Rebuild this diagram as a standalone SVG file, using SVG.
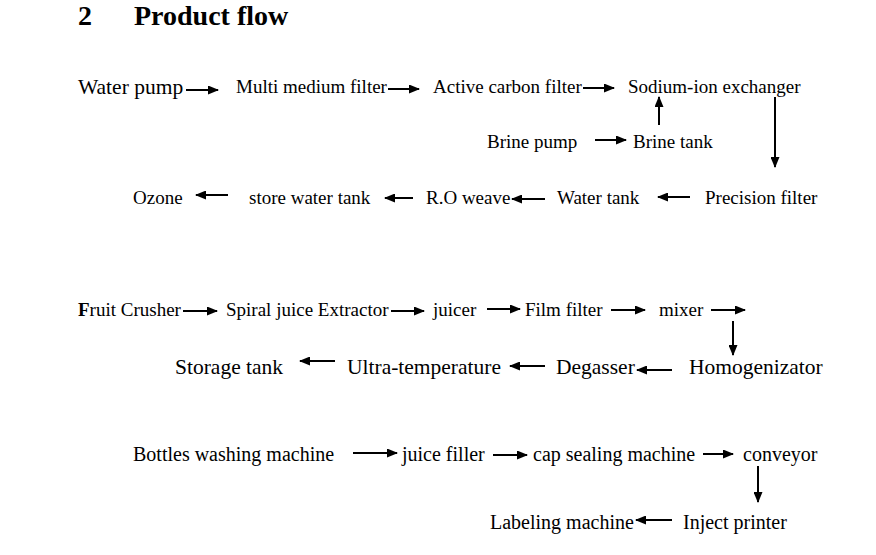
<svg xmlns="http://www.w3.org/2000/svg" width="876" height="555" viewBox="0 0 876 555">
<defs>
<marker id="ah" markerUnits="userSpaceOnUse" markerWidth="11" markerHeight="9" refX="10" refY="4.5" orient="auto">
<path d="M0,0 L11,4.5 L0,9 z" fill="#000"/>
</marker>
</defs>
<style>
text{font-family:"Liberation Serif","Times New Roman",serif;fill:#000}
.t{font-size:28px;font-weight:bold}
.m{font-size:19px}
.n{font-size:20px}
.l{font-size:21.5px}
.c line{stroke:#000;stroke-width:2;marker-end:url(#ah)}
</style>
<rect width="876" height="555" fill="#fff"/>
<g id="title">
<text class="t" x="78" y="25">2</text>
<text class="t" x="134" y="25">Product flow</text>
</g>
<g id="water-pump"><text class="l" x="78" y="94">Water pump</text></g>
<g id="multi-medium-filter"><text class="m" x="236" y="93">Multi medium filter</text></g>
<g id="active-carbon-filter"><text class="m" x="433" y="93">Active carbon filter</text></g>
<g id="sodium-ion-exchanger"><text class="m" x="628" y="93">Sodium-ion exchanger</text></g>
<g id="brine-pump"><text class="m" x="487" y="148">Brine pump</text></g>
<g id="brine-tank"><text class="m" x="633" y="148">Brine tank</text></g>
<g id="ozone"><text class="m" x="133" y="204">Ozone</text></g>
<g id="store-water-tank"><text class="m" x="249" y="204">store water tank</text></g>
<g id="ro-weave"><text class="m" x="426" y="204">R.O weave</text></g>
<g id="water-tank"><text class="m" x="557" y="204">Water tank</text></g>
<g id="precision-filter"><text class="m" x="705" y="204">Precision filter</text></g>
<g id="fruit-crusher"><text class="m" x="78" y="316"><tspan font-weight="bold">F</tspan>ruit Crusher</text></g>
<g id="spiral-juice-extractor"><text class="m" x="226" y="316">Spiral juice Extractor</text></g>
<g id="juicer"><text class="m" x="433" y="316">juicer</text></g>
<g id="film-filter"><text class="m" x="525" y="316">Film filter</text></g>
<g id="mixer"><text class="m" x="659" y="316">mixer</text></g>
<g id="homogenizator"><text class="l" x="689" y="374">Homogenizator</text></g>
<g id="degasser"><text class="l" x="556" y="374">Degasser</text></g>
<g id="ultra-temperature"><text class="l" x="347" y="374">Ultra-temperature</text></g>
<g id="storage-tank"><text class="l" x="175" y="374">Storage tank</text></g>
<g id="bottles-washing-machine"><text class="n" x="133" y="461">Bottles washing machine</text></g>
<g id="juice-filler"><text class="n" x="402" y="461">juice filler</text></g>
<g id="cap-sealing-machine"><text class="n" x="533" y="461">cap sealing machine</text></g>
<g id="conveyor"><text class="n" x="743" y="461">conveyor</text></g>
<g id="inject-printer"><text class="n" x="683" y="529">Inject printer</text></g>
<g id="labeling-machine"><text class="n" x="490" y="529">Labeling machine</text></g>
<g id="connectors" class="c">
<line x1="186" y1="90" x2="218" y2="90"/>
<line x1="388" y1="89" x2="419" y2="89"/>
<line x1="583" y1="88" x2="614" y2="88"/>
<line x1="659" y1="125" x2="659" y2="97"/>
<line x1="775" y1="97" x2="775" y2="167"/>
<line x1="595" y1="140" x2="626" y2="140"/>
<line x1="690" y1="197" x2="658" y2="197"/>
<line x1="545" y1="199" x2="512" y2="199"/>
<line x1="413" y1="198" x2="385" y2="198"/>
<line x1="228" y1="195" x2="196" y2="195"/>
<line x1="183" y1="311" x2="217" y2="311"/>
<line x1="391" y1="311" x2="424" y2="311"/>
<line x1="487" y1="309" x2="520" y2="309"/>
<line x1="611" y1="310" x2="645" y2="310"/>
<line x1="711" y1="310" x2="745" y2="310"/>
<line x1="733" y1="321" x2="733" y2="355"/>
<line x1="672" y1="370" x2="637" y2="370"/>
<line x1="545" y1="366" x2="510" y2="366"/>
<line x1="335" y1="361" x2="300" y2="361"/>
<line x1="353" y1="453" x2="397" y2="453"/>
<line x1="493" y1="455" x2="527" y2="455"/>
<line x1="703" y1="454" x2="733" y2="454"/>
<line x1="758" y1="466" x2="758" y2="502"/>
<line x1="672" y1="520" x2="636" y2="520"/>
</g>
</svg>
